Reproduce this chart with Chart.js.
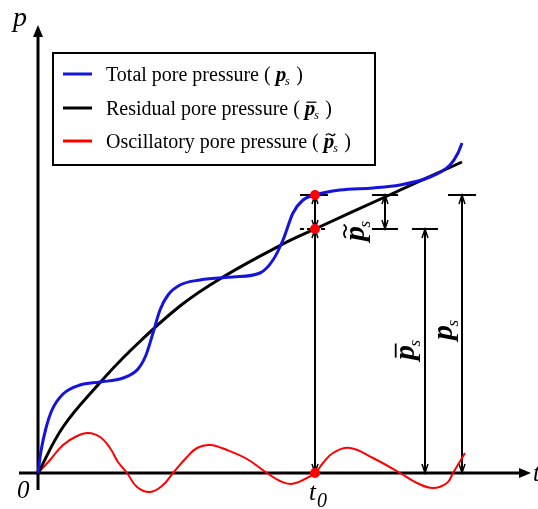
<!DOCTYPE html>
<html>
<head>
<meta charset="utf-8">
<script src="https://cdn.jsdelivr.net/npm/chart.js@4.4.1/dist/chart.umd.min.js"></script>
<style>
  html, body { margin: 0; padding: 0; background: #fff; }
  #wrap { width: 538px; height: 509px; }
</style>
</head>
<body>
<div id="wrap"><canvas id="poreChart" width="538" height="509"></canvas></div>
<script>
// schematic units: t measured from the origin, p measured up from the t axis
const totalT = [0, 3, 8, 14, 25, 42, 62, 85, 100, 108, 115, 122, 130, 142, 162, 195, 222, 235, 245, 255, 265, 277, 302, 335, 362, 392, 412, 420, 424];
const totalP = [0, 22, 45, 63, 79, 88, 91, 95, 104, 118, 140, 163, 178, 188, 193, 196, 200, 213, 233, 260, 273, 278, 283, 285, 288, 296, 308, 320, 330];

const residualT = [0, 25, 59, 92, 142, 185, 245, 277, 347, 424];
const residualP = [0, 46, 87, 122, 167, 196, 229, 244, 276, 311];

const oscT = [0, 12, 25, 39, 50, 62, 72, 80, 89, 99, 112, 125, 135, 149, 159, 172, 189, 209, 229, 242, 253, 265, 277, 285, 295, 312, 335, 362, 379, 395, 409, 415, 421, 427];
const oscP = [0, 13, 28, 37, 40, 36, 25, 11, 0, -14, -19, -12, 0, 16, 25, 28, 23, 14, 0, -8, -11, -7, 0, 10, 20, 25, 15, 0, -10, -15, -10, 0, 10, 20];

// the instant t0 and the pressures read there
const t0 = 277;
const totalAtT0 = 278;
const residualAtT0 = 244;
// where the three dimension lines stand
const dimOscT = 347, dimResT = 387, dimTotT = 424;

const legendLabels = ['Total pore pressure (', 'Residual pore pressure (', 'Oscillatory pore pressure ('];

const BLUE = '#1414dc', RED = '#ff0000';
const SERIF = '"Liberation Serif", "Times New Roman", serif';

function pts(xs, ys) {
    return xs.map((x, i) => ({ x: x, y: ys[i] }));
}

function arrowHead(c, x, y, dir) {
    // dir -1: tip points up, +1: tip points down
    c.beginPath();
    c.moveTo(x - 3, y - dir * 9);
    c.lineTo(x, y);
    c.lineTo(x + 3, y - dir * 9);
    c.stroke();
}

function hLine(c, x1, x2, y) {
    c.beginPath();
    c.moveTo(x1, y);
    c.lineTo(x2, y);
    c.stroke();
}

function vLine(c, x, y1, y2) {
    c.beginPath();
    c.moveTo(x, y1);
    c.lineTo(x, y2);
    c.stroke();
}

function tildePath(c, x, y, w, h) {
    c.beginPath();
    c.moveTo(x, y + h * 0.3);
    c.bezierCurveTo(x + w * 0.25, y - h, x + w * 0.5, y - h * 0.2, x + w * 0.55, y);
    c.bezierCurveTo(x + w * 0.65, y + h * 0.6, x + w * 0.8, y + h * 0.8, x + w, y - h * 0.6);
    c.stroke();
}

// bold italic p with subscript s; mark = '', 'bar' or 'tilde'
function psSymbol(c, size, mark) {
    c.font = 'italic bold ' + size + 'px ' + SERIF;
    c.textAlign = 'left';
    c.textBaseline = 'alphabetic';
    c.fillText('p', 0, 0);
    const w = c.measureText('p').width;
    c.font = 'italic ' + Math.round(size * 0.58) + 'px ' + SERIF;
    c.fillText('s', w - size * 0.05, size * 0.2);
    const top = -size * 0.47 - size * 0.14;
    c.lineWidth = Math.max(1.2, size * 0.06);
    if (mark === 'bar') hLine(c, size * 0.08, w + size * 0.05, top);
    if (mark === 'tilde') tildePath(c, size * 0.1, top - size * 0.02, w * 0.9, size * 0.08);
    return w;
}

const sketch = {
    id: 'sketch',
    beforeDatasetsDraw(chart) {
        const c = chart.ctx;
        const X = v => chart.scales.x.getPixelForValue(v);
        const Y = v => chart.scales.y.getPixelForValue(v);
        c.save();
        c.strokeStyle = '#000';
        c.fillStyle = '#000';

        // axes with arrows
        c.lineWidth = 3;
        vLine(c, X(0), Y(-17), Y(440));
        hLine(c, X(-19), X(484), Y(0));
        c.beginPath();
        c.moveTo(X(0), Y(448)); c.lineTo(X(0) - 5, Y(436)); c.lineTo(X(0) + 5, Y(436)); c.closePath(); c.fill();
        c.beginPath();
        c.moveTo(X(493), Y(0)); c.lineTo(X(481), Y(0) - 5); c.lineTo(X(481), Y(0) + 5); c.closePath(); c.fill();

        // dimension at t0
        c.lineWidth = 2;
        vLine(c, X(t0), Y(0), Y(totalAtT0));
        hLine(c, X(t0) - 15, X(t0) + 13, Y(totalAtT0));
        c.setLineDash([4, 3]);
        hLine(c, X(t0) - 15, X(t0) + 13, Y(residualAtT0));
        c.setLineDash([]);
        c.lineWidth = 1.5;
        arrowHead(c, X(t0), Y(totalAtT0), -1);
        arrowHead(c, X(t0), Y(residualAtT0), 1);
        arrowHead(c, X(t0), Y(residualAtT0), -1);
        arrowHead(c, X(t0), Y(0), 1);

        // oscillatory part
        c.lineWidth = 2;
        vLine(c, X(dimOscT), Y(totalAtT0), Y(residualAtT0));
        hLine(c, X(dimOscT) - 13, X(dimOscT) + 13, Y(totalAtT0));
        hLine(c, X(dimOscT) - 13, X(dimOscT) + 13, Y(residualAtT0));
        c.lineWidth = 1.5;
        arrowHead(c, X(dimOscT), Y(totalAtT0), -1);
        arrowHead(c, X(dimOscT), Y(residualAtT0), 1);

        // residual part
        c.lineWidth = 2;
        vLine(c, X(dimResT), Y(residualAtT0), Y(0));
        hLine(c, X(dimResT) - 13, X(dimResT) + 13, Y(residualAtT0));
        c.lineWidth = 1.5;
        arrowHead(c, X(dimResT), Y(residualAtT0), -1);
        arrowHead(c, X(dimResT), Y(0), 1);

        // total
        c.lineWidth = 2;
        vLine(c, X(dimTotT), Y(totalAtT0), Y(0));
        hLine(c, X(dimTotT) - 14, X(dimTotT) + 14, Y(totalAtT0));
        c.lineWidth = 1.5;
        arrowHead(c, X(dimTotT), Y(totalAtT0), -1);
        arrowHead(c, X(dimTotT), Y(0), 1);

        // rotated symbols beside the dimension lines
        const rot = (x, y, mark) => {
            c.save();
            c.translate(x, y);
            c.rotate(-Math.PI / 2);
            psSymbol(c, 30, mark);
            c.restore();
        };
        rot(X(dimOscT) - 21, Y(residualAtT0) + 12, 'tilde');
        rot(X(dimResT) - 11, 360, 'bar');
        rot(X(dimTotT) - 10, 340, '');

        // axis letters
        c.textAlign = 'left';
        c.textBaseline = 'alphabetic';
        c.font = 'italic 28px ' + SERIF;
        c.fillText('p', 13, 26);
        c.font = 'italic 25px ' + SERIF;
        c.fillText('0', 17, 498);
        c.fillText('t', 533, 481);
        c.fillText('t', X(t0) - 6, 500);
        c.font = 'italic 20px ' + SERIF;
        c.fillText('0', X(t0) + 2, 507);
        c.restore();
    },
    afterDatasetsDraw(chart) {
        const c = chart.ctx;
        c.save();
        c.fillStyle = '#fff';
        c.fillRect(53, 53, 322, 112);
        c.strokeStyle = '#000';
        c.lineWidth = 2;
        c.strokeRect(53, 53, 322, 112);
        const rows = [74, 108, 141];
        const colors = [BLUE, '#000', RED];
        const marks = ['', 'bar', 'tilde'];
        rows.forEach((y, i) => {
            c.strokeStyle = colors[i];
            c.lineWidth = 3;
            hLine(c, 63, 92, y);
            c.fillStyle = '#000';
            c.strokeStyle = '#000';
            c.font = '20px ' + SERIF;
            c.textAlign = 'left';
            c.textBaseline = 'alphabetic';
            const base = y + 7;
            c.fillText(legendLabels[i], 106, base);
            const w = c.measureText(legendLabels[i]).width;
            c.save();
            c.translate(106 + w + 5, base);
            const pw = psSymbol(c, 21, marks[i]);
            c.restore();
            c.font = '20px ' + SERIF;
            c.fillText(')', 106 + w + 5 + pw + 10, base);
        });
        c.restore();
    }
};

const ctx = document.getElementById('poreChart').getContext('2d');
const poreChart = new Chart(ctx, {
    type: 'scatter',
    data: {
        datasets: [
            {
                label: 'Points at t0',
                data: [{ x: t0, y: totalAtT0 }, { x: t0, y: residualAtT0 }, { x: t0, y: 0 }],
                showLine: false,
                pointRadius: 5,
                pointBackgroundColor: RED,
                pointBorderWidth: 0,
                order: 0
            },
            {
                label: 'Total pore pressure',
                data: pts(totalT, totalP),
                showLine: true,
                borderColor: BLUE,
                borderWidth: 3,
                pointRadius: 0,
                cubicInterpolationMode: 'monotone',
                order: 1
            },
            {
                label: 'Residual pore pressure',
                data: pts(residualT, residualP),
                showLine: true,
                borderColor: '#000',
                borderWidth: 3,
                pointRadius: 0,
                tension: 0.4,
                order: 2
            },
            {
                label: 'Oscillatory pore pressure',
                data: pts(oscT, oscP),
                showLine: true,
                borderColor: RED,
                borderWidth: 2,
                pointRadius: 0,
                tension: 0.4,
                order: 3
            }
        ]
    },
    options: {
        responsive: false,
        animation: false,
        layout: { padding: 0, autoPadding: false },
        plugins: {
            legend: { display: false },
            tooltip: { enabled: false }
        },
        scales: {
            x: { type: 'linear', min: -38, max: 500, display: false },
            y: { type: 'linear', min: -36, max: 473, display: false }
        }
    },
    plugins: [sketch]
});
</script>
</body>
</html>
